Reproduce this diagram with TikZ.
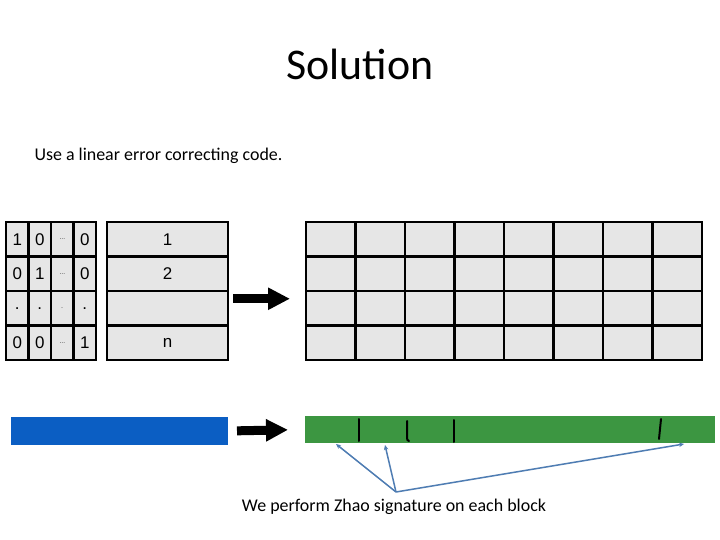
\documentclass[tikz,border=0pt]{standalone}
\usepackage{fontspec}
\setmainfont{Carlito}
\newfontfamily\cellfont{Liberation Sans}
\usepackage{tikz}
\usetikzlibrary{
    arrows.meta,
    positioning,
    calc
}
\definecolor{cellgray}{HTML}{E6E6E6}
\definecolor{barblue}{HTML}{0B5EC3}
\definecolor{bargreen}{HTML}{3C9641}
\definecolor{callout}{HTML}{4F7DB3}
\newcommand{\tinyell}{{\fontsize{6}{6}\selectfont\dots}}
\newcommand{\tinydot}{{\fontsize{6}{6}\selectfont.}}

\begin{document}
\begin{tikzpicture}[
            x=1bp, y=-1bp,
            cell/.style={draw, line width=2.2bp, fill=cellgray, inner sep=0pt, outer sep=0pt, minimum width=22.5bp, minimum height=34.5bp, font=\cellfont\fontsize{17}{17}\selectfont},
            numcell/.style={cell, minimum width=121bp},
            gcell/.style={cell, minimum width=49.5bp},
            bar/.style={inner sep=0pt, outer sep=0pt, minimum height=27bp},
            tick/.style={line width=2bp, line cap=round},
            bigarr/.style={-{Triangle[length=22bp, width=21bp]}, line width=9bp},
            callarr/.style={-{Stealth[length=5bp, width=4.5bp]}, line width=1.5bp, draw=callout},
        ]
            \useasboundingbox (0,0) rectangle (720,540);

            % ====== Titles ======
            \node[anchor=base, font=\fontsize{44}{44}\selectfont] (title) at (360,80) {Solution};
            \node[anchor=base west, font=\fontsize{18}{18}\selectfont] (intro) at (31,161)
                {Use a linear error correcting code.};

            % ====== Identity matrix and block numbers ======
            \foreach \r/\a/\b/\c/\d/\n in {1/1/0/\tinyell/0/1, 2/0/1/\tinyell/0/2, 3/././/./{}, 4/0/0/\tinyell/1/n} {
                \node[cell] (m-\r-1) at (17.25, {222+34.5*(\r-0.5)}) {\a};
                \node[cell, right=0pt of m-\r-1] (m-\r-2) {\b};
                \node[cell, right=0pt of m-\r-2] (m-\r-3) {\c};
                \node[cell, right=0pt of m-\r-3] (m-\r-4) {\d};
                \node[numcell, right=11bp of m-\r-4] (num-\r) {\n};
            }
            \node at (m-3-3) {\tinydot};

            % ====== Encoded grid ======
            \foreach \r in {1,...,4} {
                \foreach \c in {1,...,8} {
                    \node[gcell] (g-\r-\c) at ({306+49.5*(\c-0.5)}, {222+34.5*(\r-0.5)}) {};
                }
            }

            % ====== Bars ======
            \node[bar, fill=barblue, minimum width=217bp, minimum height=28bp] (blue) at (119.5,431) {};
            \node[bar, fill=bargreen, minimum width=410bp] (green) at (510,429.5) {};

            \draw[tick] (359,419) -- (359,441);
            \draw[tick] (407,421) -- (407,438) to[out=-90, in=180] (409,441);
            \draw[tick] (454,420) -- (454,442);
            \draw[tick] (661,419) -- (659,439);

            % ====== Arrows ======
            \draw[bigarr, shorten <=5bp, shorten >=16bp]
                ([yshift=9.5bp]num-3.east) -- ([yshift=9.5bp]g-3-1.west);
            \draw[bigarr, shorten <=9bp, shorten >=17bp]
                (blue.east) -- (green.west);

            % ====== Callout ======
            \coordinate (hub) at (396,492);
            \coordinate (blk-1) at ([xshift=31bp, yshift=-1bp]green.south west);
            \coordinate (blk-2) at ([xshift=80bp, yshift=-2bp]green.south west);
            \coordinate (blk-3) at ([xshift=379bp, yshift=-1bp]green.south west);
            \foreach \k in {1,2,3} {
                \draw[callarr] (hub) -- (blk-\k);
            }
            \node[anchor=base, font=\fontsize{18}{18}\selectfont] (note) at (394,511)
                {We perform Zhao signature on each block};
        \end{tikzpicture}
\end{document}
